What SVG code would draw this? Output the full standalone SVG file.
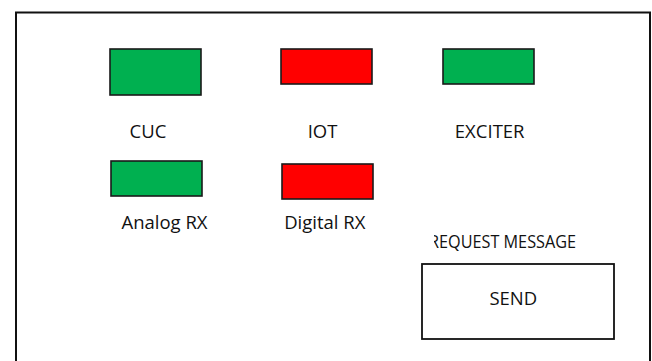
<svg xmlns="http://www.w3.org/2000/svg" width="652" height="361" viewBox="0 0 652 361">
  <style>
    .lamp { stroke: #1a1a1a; stroke-width: 1.6; }
    .green { fill: #00B050; }
    .red { fill: #FF0000; }
    .lbl { font-family: "Open Sans", "Liberation Sans", sans-serif; font-size: 18.5px; fill: #111; text-anchor: middle; }
    .frame { fill: none; stroke: #111; stroke-width: 2; }
  </style>
  <defs>
    <clipPath id="reqclip">
      <rect x="434" y="225" width="160" height="30"/>
    </clipPath>
  </defs>
  <rect width="652" height="361" fill="#fff"/>
  <path class="frame" d="M16,362 V12.5 H650 V362"/>
  <g id="connectors"/>
  <g id="cuc">
    <rect class="lamp green" x="110" y="49" width="91" height="46"/>
    <text class="lbl" x="148" y="138">CUC</text>
  </g>
  <g id="iot">
    <rect class="lamp red" x="281" y="49" width="91" height="35"/>
    <text class="lbl" x="322.5" y="138">IOT</text>
  </g>
  <g id="exciter">
    <rect class="lamp green" x="443" y="49" width="91" height="35"/>
    <text class="lbl" x="489.7" y="137.5">EXCITER</text>
  </g>
  <g id="analog-rx">
    <rect class="lamp green" x="111" y="161" width="91" height="35"/>
    <text class="lbl" x="164.5" y="228.5">Analog RX</text>
  </g>
  <g id="digital-rx">
    <rect class="lamp red" x="282" y="164" width="91" height="35"/>
    <text class="lbl" x="324.8" y="228.5">Digital RX</text>
  </g>
  <g id="send">
    <text class="lbl" x="429" y="247.5" style="text-anchor:start" textLength="147" lengthAdjust="spacingAndGlyphs" clip-path="url(#reqclip)">REQUEST MESSAGE</text>
    <rect x="422" y="264" width="192" height="75" fill="#fff" stroke="#111" stroke-width="1.8"/>
    <text class="lbl" x="513.3" y="305">SEND</text>
  </g>
</svg>
